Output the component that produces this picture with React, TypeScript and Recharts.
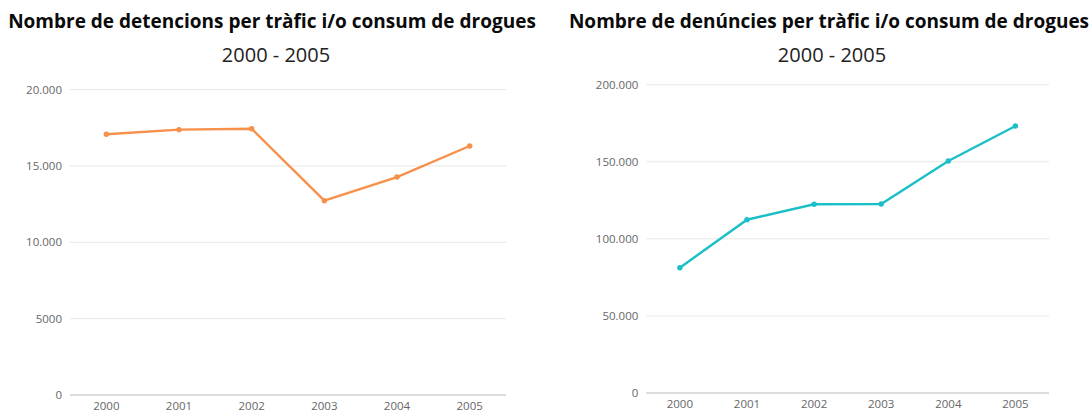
import { LineChart, Line, XAxis, YAxis, CartesianGrid } from "recharts"

const years = ["2000", "2001", "2002", "2003", "2004", "2005"]
const detencions = [17070, 17370, 17430, 12720, 14270, 16300]
const denuncies = [81300, 112400, 122400, 122600, 150500, 173200]
const ticksDetencions = [0, 5000, 10000, 15000, 20000]
const ticksDenuncies = [0, 50000, 100000, 150000, 200000]

const detData = years.map((year, i) => ({ year, value: detencions[i] }))
const denData = years.map((year, i) => ({ year, value: denuncies[i] }))

const FONT = "'Open Sans', 'Noto Sans', sans-serif"

// catalan style: 5000 stays plain, 10.000 and up get a dot
const fmt = (v: number) =>
  v >= 10000 ? String(v).replace(/\B(?=(\d{3})+(?!\d))/g, ".") : String(v)

interface PanelProps {
  left: number
  width: number
  title: string
  titleCenter: number
  subCenter: number
  data: Array<{ year: string; value: number }>
  ticks: number[]
  max: number
  color: string
  margin: { top: number; right: number; bottom: number; left: number }
  yWidth: number
}

function Panel({ left, width, title, titleCenter, subCenter, data, ticks, max, color, margin, yWidth }: PanelProps) {
  const pad = (width - margin.left - margin.right - yWidth) / 12
  return (
    <div style={{ position: "absolute", left, top: 0, width, height: 412 }}>
      <div
        style={{
          position: "absolute",
          left: titleCenter - 300,
          width: 600,
          top: 7,
          textAlign: "center",
          fontFamily: FONT,
          fontWeight: 700,
          fontSize: 19,
          lineHeight: "28px",
          color: "#0a0a0a",
          whiteSpace: "nowrap",
        }}
      >
        {title}
      </div>
      <div
        style={{
          position: "absolute",
          left: subCenter - 150,
          width: 300,
          top: 40,
          textAlign: "center",
          fontFamily: FONT,
          fontSize: 20,
          lineHeight: "30px",
          color: "#222",
        }}
      >
        2000 - 2005
      </div>
      <div style={{ position: "absolute", left: 0, top: 0, width, height: 412, overflow: "hidden" }}>
        <LineChart width={width} height={440} data={data} margin={margin}>
          <CartesianGrid vertical={false} stroke="#e8e8e8" />
          <XAxis
            dataKey="year"
            height={30}
            tickLine={false}
            tickSize={5}
            axisLine={{ stroke: "#c4c4c4" }}
            padding={{ left: pad, right: pad }}
            tick={{ fontSize: 11.5, fill: "#666", fontFamily: FONT }}
          />
          <YAxis
            width={yWidth}
            domain={[0, max]}
            ticks={ticks}
            tickFormatter={fmt}
            tickLine={false}
            axisLine={false}
            tick={{ fontSize: 11.5, fill: "#666", fontFamily: FONT }}
          />
          <Line
            type="linear"
            dataKey="value"
            stroke={color}
            strokeWidth={2.4}
            dot={{ r: 2.7, fill: color, stroke: color, strokeWidth: 0 }}
            isAnimationActive={false}
          />
        </LineChart>
      </div>
    </div>
  )
}

export default function App() {
  return (
    <div style={{ position: "absolute", left: 0, top: 0, width: 1091, height: 412, background: "#fff", overflow: "hidden" }}>
      <Panel
        left={0}
        width={545}
        title="Nombre de detencions per tràfic i/o consum de drogues"
        titleCenter={272}
        subCenter={276}
        data={detData}
        ticks={ticksDetencions}
        max={20000}
        color="#f7904a"
        margin={{ top: 89.5, right: 39, bottom: 15, left: 0 }}
        yWidth={70}
      />
      <Panel
        left={545}
        width={546}
        title="Nombre de denúncies per tràfic i/o consum de drogues"
        titleCenter={284}
        subCenter={287}
        data={denData}
        ticks={ticksDenuncies}
        max={200000}
        color="#1bbfc8"
        margin={{ top: 84.7, right: 42, bottom: 17, left: 0 }}
        yWidth={101.3}
      />
    </div>
  )
}
